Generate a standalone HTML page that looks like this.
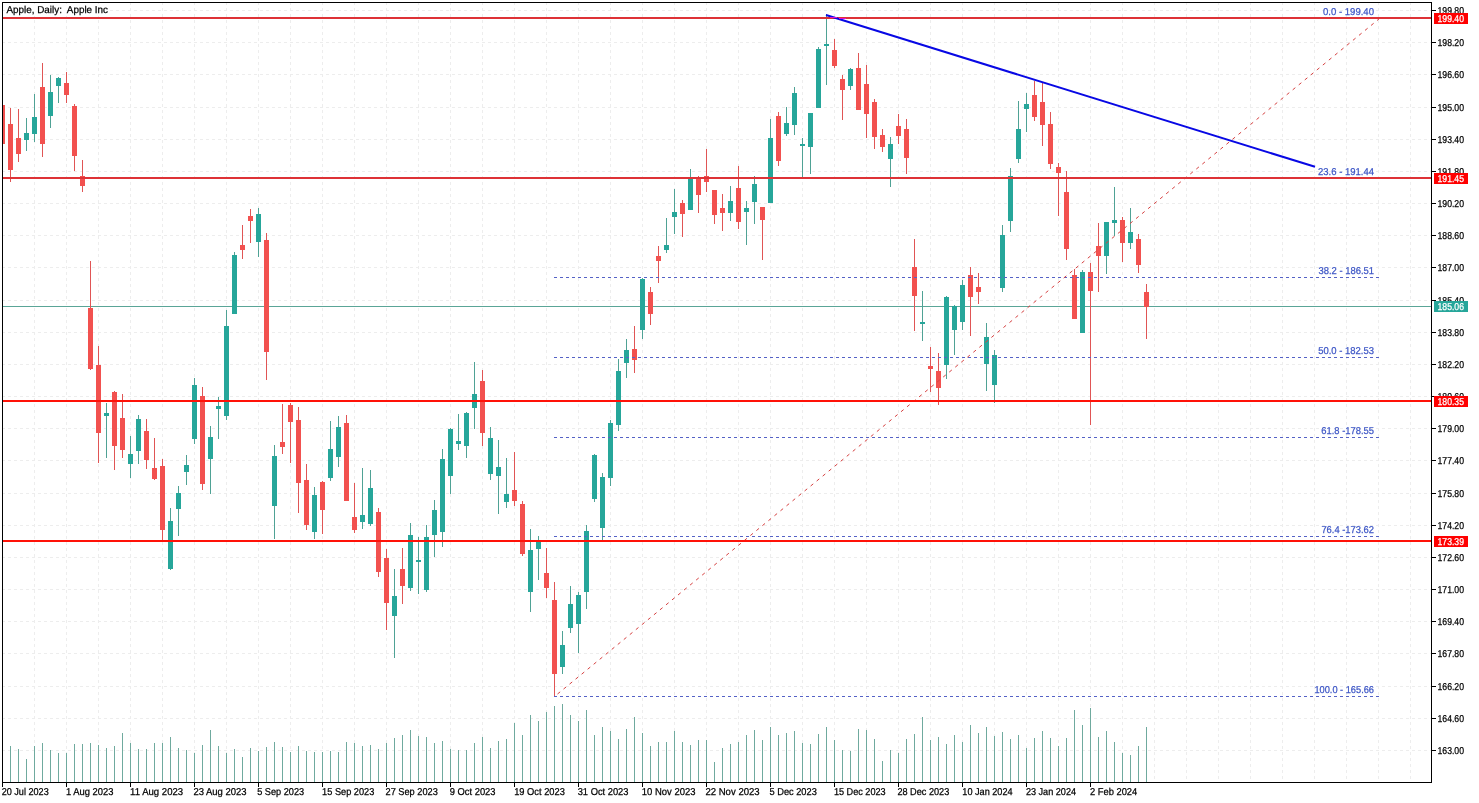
<!DOCTYPE html>
<html><head><meta charset="utf-8"><title>Apple, Daily</title>
<style>
html,body{margin:0;padding:0;background:#fff;}
body{width:1479px;height:803px;overflow:hidden;position:relative;font-family:"Liberation Sans",sans-serif;}
</style></head><body>
<svg width="1479" height="803" viewBox="0 0 1479 803" style="display:block;position:absolute;left:0;top:0;will-change:transform">
<rect x="0" y="0" width="1479" height="803" fill="#ffffff"/>
<g shape-rendering="crispEdges" stroke="#ededed" stroke-width="1" stroke-dasharray="3 3" fill="none">
<line x1="34.5" y1="2" x2="34.5" y2="782"/>
<line x1="66.5" y1="2" x2="66.5" y2="782"/>
<line x1="98.5" y1="2" x2="98.5" y2="782"/>
<line x1="130.5" y1="2" x2="130.5" y2="782"/>
<line x1="162.5" y1="2" x2="162.5" y2="782"/>
<line x1="194.5" y1="2" x2="194.5" y2="782"/>
<line x1="226.5" y1="2" x2="226.5" y2="782"/>
<line x1="258.5" y1="2" x2="258.5" y2="782"/>
<line x1="290.5" y1="2" x2="290.5" y2="782"/>
<line x1="322.5" y1="2" x2="322.5" y2="782"/>
<line x1="354.5" y1="2" x2="354.5" y2="782"/>
<line x1="386.5" y1="2" x2="386.5" y2="782"/>
<line x1="418.5" y1="2" x2="418.5" y2="782"/>
<line x1="450.5" y1="2" x2="450.5" y2="782"/>
<line x1="482.5" y1="2" x2="482.5" y2="782"/>
<line x1="514.5" y1="2" x2="514.5" y2="782"/>
<line x1="546.5" y1="2" x2="546.5" y2="782"/>
<line x1="578.5" y1="2" x2="578.5" y2="782"/>
<line x1="610.5" y1="2" x2="610.5" y2="782"/>
<line x1="642.5" y1="2" x2="642.5" y2="782"/>
<line x1="674.5" y1="2" x2="674.5" y2="782"/>
<line x1="706.5" y1="2" x2="706.5" y2="782"/>
<line x1="738.5" y1="2" x2="738.5" y2="782"/>
<line x1="770.5" y1="2" x2="770.5" y2="782"/>
<line x1="802.5" y1="2" x2="802.5" y2="782"/>
<line x1="834.5" y1="2" x2="834.5" y2="782"/>
<line x1="866.5" y1="2" x2="866.5" y2="782"/>
<line x1="898.5" y1="2" x2="898.5" y2="782"/>
<line x1="930.5" y1="2" x2="930.5" y2="782"/>
<line x1="962.5" y1="2" x2="962.5" y2="782"/>
<line x1="994.5" y1="2" x2="994.5" y2="782"/>
<line x1="1026.5" y1="2" x2="1026.5" y2="782"/>
<line x1="1058.5" y1="2" x2="1058.5" y2="782"/>
<line x1="1090.5" y1="2" x2="1090.5" y2="782"/>
<line x1="1122.5" y1="2" x2="1122.5" y2="782"/>
<line x1="1154.5" y1="2" x2="1154.5" y2="782"/>
<line x1="1186.5" y1="2" x2="1186.5" y2="782"/>
<line x1="1218.5" y1="2" x2="1218.5" y2="782"/>
<line x1="1250.5" y1="2" x2="1250.5" y2="782"/>
<line x1="1282.5" y1="2" x2="1282.5" y2="782"/>
<line x1="1314.5" y1="2" x2="1314.5" y2="782"/>
<line x1="1346.5" y1="2" x2="1346.5" y2="782"/>
<line x1="1378.5" y1="2" x2="1378.5" y2="782"/>
<line x1="1410.5" y1="2" x2="1410.5" y2="782"/>
<line x1="2" y1="10.5" x2="1431" y2="10.5"/>
<line x1="2" y1="42.5" x2="1431" y2="42.5"/>
<line x1="2" y1="74.5" x2="1431" y2="74.5"/>
<line x1="2" y1="107.5" x2="1431" y2="107.5"/>
<line x1="2" y1="139.5" x2="1431" y2="139.5"/>
<line x1="2" y1="171.5" x2="1431" y2="171.5"/>
<line x1="2" y1="203.5" x2="1431" y2="203.5"/>
<line x1="2" y1="235.5" x2="1431" y2="235.5"/>
<line x1="2" y1="267.5" x2="1431" y2="267.5"/>
<line x1="2" y1="300.5" x2="1431" y2="300.5"/>
<line x1="2" y1="332.5" x2="1431" y2="332.5"/>
<line x1="2" y1="364.5" x2="1431" y2="364.5"/>
<line x1="2" y1="396.5" x2="1431" y2="396.5"/>
<line x1="2" y1="428.5" x2="1431" y2="428.5"/>
<line x1="2" y1="460.5" x2="1431" y2="460.5"/>
<line x1="2" y1="493.5" x2="1431" y2="493.5"/>
<line x1="2" y1="525.5" x2="1431" y2="525.5"/>
<line x1="2" y1="557.5" x2="1431" y2="557.5"/>
<line x1="2" y1="589.5" x2="1431" y2="589.5"/>
<line x1="2" y1="621.5" x2="1431" y2="621.5"/>
<line x1="2" y1="653.5" x2="1431" y2="653.5"/>
<line x1="2" y1="686.5" x2="1431" y2="686.5"/>
<line x1="2" y1="718.5" x2="1431" y2="718.5"/>
<line x1="2" y1="750.5" x2="1431" y2="750.5"/>
</g>
<g shape-rendering="crispEdges" fill="#6faa9e">
<rect x="10" y="746" width="1" height="36"/>
<rect x="18" y="749" width="1" height="33"/>
<rect x="26" y="759" width="1" height="23"/>
<rect x="34" y="746" width="1" height="36"/>
<rect x="42" y="743" width="1" height="39"/>
<rect x="50" y="750" width="1" height="32"/>
<rect x="58" y="753" width="1" height="29"/>
<rect x="66" y="753" width="1" height="29"/>
<rect x="74" y="744" width="1" height="38"/>
<rect x="82" y="744" width="1" height="38"/>
<rect x="90" y="743" width="1" height="39"/>
<rect x="98" y="745" width="1" height="37"/>
<rect x="106" y="748" width="1" height="34"/>
<rect x="114" y="746" width="1" height="36"/>
<rect x="122" y="733" width="1" height="49"/>
<rect x="130" y="743" width="1" height="39"/>
<rect x="138" y="749" width="1" height="33"/>
<rect x="146" y="749" width="1" height="33"/>
<rect x="154" y="743" width="1" height="39"/>
<rect x="162" y="743" width="1" height="39"/>
<rect x="170" y="737" width="1" height="45"/>
<rect x="178" y="748" width="1" height="34"/>
<rect x="186" y="750" width="1" height="32"/>
<rect x="194" y="753" width="1" height="29"/>
<rect x="202" y="745" width="1" height="37"/>
<rect x="210" y="730" width="1" height="52"/>
<rect x="218" y="746" width="1" height="36"/>
<rect x="226" y="753" width="1" height="29"/>
<rect x="234" y="749" width="1" height="33"/>
<rect x="242" y="757" width="1" height="25"/>
<rect x="250" y="748" width="1" height="34"/>
<rect x="258" y="751" width="1" height="31"/>
<rect x="266" y="747" width="1" height="35"/>
<rect x="274" y="742" width="1" height="40"/>
<rect x="282" y="747" width="1" height="35"/>
<rect x="290" y="752" width="1" height="30"/>
<rect x="298" y="746" width="1" height="36"/>
<rect x="306" y="751" width="1" height="31"/>
<rect x="314" y="752" width="1" height="30"/>
<rect x="322" y="752" width="1" height="30"/>
<rect x="330" y="751" width="1" height="31"/>
<rect x="338" y="752" width="1" height="30"/>
<rect x="346" y="742" width="1" height="40"/>
<rect x="354" y="743" width="1" height="39"/>
<rect x="362" y="746" width="1" height="36"/>
<rect x="370" y="745" width="1" height="37"/>
<rect x="378" y="749" width="1" height="33"/>
<rect x="386" y="743" width="1" height="39"/>
<rect x="394" y="738" width="1" height="44"/>
<rect x="402" y="735" width="1" height="47"/>
<rect x="410" y="730" width="1" height="52"/>
<rect x="418" y="736" width="1" height="46"/>
<rect x="426" y="737" width="1" height="45"/>
<rect x="434" y="743" width="1" height="39"/>
<rect x="442" y="741" width="1" height="41"/>
<rect x="450" y="749" width="1" height="33"/>
<rect x="458" y="750" width="1" height="32"/>
<rect x="466" y="750" width="1" height="32"/>
<rect x="474" y="743" width="1" height="39"/>
<rect x="482" y="737" width="1" height="45"/>
<rect x="490" y="748" width="1" height="34"/>
<rect x="498" y="741" width="1" height="41"/>
<rect x="506" y="739" width="1" height="43"/>
<rect x="514" y="723" width="1" height="59"/>
<rect x="522" y="735" width="1" height="47"/>
<rect x="530" y="715" width="1" height="67"/>
<rect x="538" y="721" width="1" height="61"/>
<rect x="546" y="712" width="1" height="70"/>
<rect x="554" y="706" width="1" height="76"/>
<rect x="562" y="704" width="1" height="78"/>
<rect x="570" y="715" width="1" height="67"/>
<rect x="578" y="721" width="1" height="61"/>
<rect x="586" y="710" width="1" height="72"/>
<rect x="594" y="735" width="1" height="47"/>
<rect x="602" y="727" width="1" height="55"/>
<rect x="610" y="731" width="1" height="51"/>
<rect x="618" y="739" width="1" height="43"/>
<rect x="626" y="729" width="1" height="53"/>
<rect x="634" y="717" width="1" height="65"/>
<rect x="642" y="733" width="1" height="49"/>
<rect x="650" y="746" width="1" height="36"/>
<rect x="658" y="742" width="1" height="40"/>
<rect x="666" y="742" width="1" height="40"/>
<rect x="674" y="731" width="1" height="51"/>
<rect x="682" y="742" width="1" height="40"/>
<rect x="690" y="745" width="1" height="37"/>
<rect x="698" y="740" width="1" height="42"/>
<rect x="706" y="740" width="1" height="42"/>
<rect x="714" y="762" width="1" height="20"/>
<rect x="722" y="748" width="1" height="34"/>
<rect x="730" y="744" width="1" height="38"/>
<rect x="738" y="742" width="1" height="40"/>
<rect x="746" y="735" width="1" height="47"/>
<rect x="754" y="730" width="1" height="52"/>
<rect x="762" y="740" width="1" height="42"/>
<rect x="770" y="727" width="1" height="55"/>
<rect x="778" y="735" width="1" height="47"/>
<rect x="786" y="733" width="1" height="49"/>
<rect x="794" y="731" width="1" height="51"/>
<rect x="802" y="743" width="1" height="39"/>
<rect x="810" y="744" width="1" height="38"/>
<rect x="818" y="734" width="1" height="48"/>
<rect x="826" y="727" width="1" height="55"/>
<rect x="834" y="740" width="1" height="42"/>
<rect x="842" y="750" width="1" height="32"/>
<rect x="850" y="751" width="1" height="31"/>
<rect x="858" y="729" width="1" height="53"/>
<rect x="866" y="730" width="1" height="52"/>
<rect x="874" y="739" width="1" height="43"/>
<rect x="882" y="761" width="1" height="21"/>
<rect x="890" y="750" width="1" height="32"/>
<rect x="898" y="753" width="1" height="29"/>
<rect x="906" y="739" width="1" height="43"/>
<rect x="914" y="734" width="1" height="48"/>
<rect x="922" y="717" width="1" height="65"/>
<rect x="930" y="740" width="1" height="42"/>
<rect x="938" y="737" width="1" height="45"/>
<rect x="946" y="744" width="1" height="38"/>
<rect x="954" y="735" width="1" height="47"/>
<rect x="962" y="742" width="1" height="40"/>
<rect x="970" y="725" width="1" height="57"/>
<rect x="978" y="733" width="1" height="49"/>
<rect x="986" y="727" width="1" height="55"/>
<rect x="994" y="736" width="1" height="46"/>
<rect x="1002" y="732" width="1" height="50"/>
<rect x="1010" y="739" width="1" height="43"/>
<rect x="1018" y="735" width="1" height="47"/>
<rect x="1026" y="748" width="1" height="34"/>
<rect x="1034" y="738" width="1" height="44"/>
<rect x="1042" y="731" width="1" height="51"/>
<rect x="1050" y="738" width="1" height="44"/>
<rect x="1058" y="746" width="1" height="36"/>
<rect x="1066" y="738" width="1" height="44"/>
<rect x="1074" y="710" width="1" height="72"/>
<rect x="1082" y="725" width="1" height="57"/>
<rect x="1090" y="708" width="1" height="74"/>
<rect x="1098" y="737" width="1" height="45"/>
<rect x="1106" y="731" width="1" height="51"/>
<rect x="1114" y="742" width="1" height="40"/>
<rect x="1122" y="753" width="1" height="29"/>
<rect x="1130" y="755" width="1" height="27"/>
<rect x="1138" y="746" width="1" height="36"/>
<rect x="1146" y="727" width="1" height="55"/>
</g>
<rect x="3" y="306" width="1428" height="1" fill="#5aa597" shape-rendering="crispEdges"/>
<g shape-rendering="crispEdges">
<rect x="3" y="105" width="2" height="39" fill="#f2514f"/>
<rect x="10" y="108" width="1" height="74" fill="#e05555"/>
<rect x="8" y="124" width="5" height="46" fill="#f2514f"/>
<rect x="18" y="109" width="1" height="53" fill="#e05555"/>
<rect x="16" y="138" width="5" height="16" fill="#f2514f"/>
<rect x="26" y="118" width="1" height="33" fill="#4fa295"/>
<rect x="24" y="133" width="5" height="7" fill="#26a69a"/>
<rect x="34" y="94" width="1" height="48" fill="#4fa295"/>
<rect x="32" y="117" width="5" height="17" fill="#26a69a"/>
<rect x="42" y="63" width="1" height="94" fill="#e05555"/>
<rect x="40" y="87" width="5" height="57" fill="#f2514f"/>
<rect x="50" y="75" width="1" height="53" fill="#4fa295"/>
<rect x="48" y="92" width="5" height="24" fill="#26a69a"/>
<rect x="58" y="77" width="1" height="26" fill="#4fa295"/>
<rect x="56" y="78" width="5" height="8" fill="#26a69a"/>
<rect x="66" y="72" width="1" height="31" fill="#e05555"/>
<rect x="64" y="83" width="5" height="12" fill="#f2514f"/>
<rect x="74" y="104" width="1" height="67" fill="#e05555"/>
<rect x="72" y="106" width="5" height="50" fill="#f2514f"/>
<rect x="82" y="160" width="1" height="32" fill="#e05555"/>
<rect x="80" y="176" width="5" height="10" fill="#f2514f"/>
<rect x="90" y="261" width="1" height="109" fill="#e05555"/>
<rect x="88" y="308" width="5" height="61" fill="#f2514f"/>
<rect x="98" y="346" width="1" height="117" fill="#e05555"/>
<rect x="96" y="365" width="5" height="68" fill="#f2514f"/>
<rect x="106" y="403" width="1" height="55" fill="#4fa295"/>
<rect x="104" y="413" width="5" height="3" fill="#26a69a"/>
<rect x="114" y="391" width="1" height="79" fill="#e05555"/>
<rect x="112" y="392" width="5" height="54" fill="#f2514f"/>
<rect x="122" y="394" width="1" height="64" fill="#e05555"/>
<rect x="120" y="418" width="5" height="32" fill="#f2514f"/>
<rect x="130" y="436" width="1" height="42" fill="#4fa295"/>
<rect x="128" y="454" width="5" height="10" fill="#26a69a"/>
<rect x="138" y="415" width="1" height="49" fill="#4fa295"/>
<rect x="136" y="419" width="5" height="32" fill="#26a69a"/>
<rect x="146" y="419" width="1" height="50" fill="#e05555"/>
<rect x="144" y="431" width="5" height="29" fill="#f2514f"/>
<rect x="154" y="438" width="1" height="42" fill="#e05555"/>
<rect x="152" y="468" width="5" height="11" fill="#f2514f"/>
<rect x="162" y="459" width="1" height="81" fill="#e05555"/>
<rect x="160" y="466" width="5" height="64" fill="#f2514f"/>
<rect x="170" y="508" width="1" height="62" fill="#4fa295"/>
<rect x="168" y="521" width="5" height="48" fill="#26a69a"/>
<rect x="178" y="486" width="1" height="50" fill="#4fa295"/>
<rect x="176" y="493" width="5" height="16" fill="#26a69a"/>
<rect x="186" y="455" width="1" height="30" fill="#4fa295"/>
<rect x="184" y="465" width="5" height="7" fill="#26a69a"/>
<rect x="194" y="378" width="1" height="66" fill="#4fa295"/>
<rect x="192" y="385" width="5" height="54" fill="#26a69a"/>
<rect x="202" y="387" width="1" height="103" fill="#e05555"/>
<rect x="200" y="396" width="5" height="88" fill="#f2514f"/>
<rect x="210" y="426" width="1" height="68" fill="#4fa295"/>
<rect x="208" y="437" width="5" height="22" fill="#26a69a"/>
<rect x="218" y="397" width="1" height="42" fill="#4fa295"/>
<rect x="216" y="406" width="5" height="3" fill="#26a69a"/>
<rect x="226" y="310" width="1" height="110" fill="#4fa295"/>
<rect x="224" y="326" width="5" height="90" fill="#26a69a"/>
<rect x="234" y="252" width="1" height="62" fill="#4fa295"/>
<rect x="232" y="255" width="5" height="59" fill="#26a69a"/>
<rect x="242" y="225" width="1" height="34" fill="#e05555"/>
<rect x="240" y="245" width="5" height="5" fill="#f2514f"/>
<rect x="250" y="209" width="1" height="34" fill="#e05555"/>
<rect x="248" y="216" width="5" height="5" fill="#f2514f"/>
<rect x="258" y="208" width="1" height="49" fill="#4fa295"/>
<rect x="256" y="214" width="5" height="28" fill="#26a69a"/>
<rect x="266" y="233" width="1" height="147" fill="#e05555"/>
<rect x="264" y="240" width="5" height="112" fill="#f2514f"/>
<rect x="274" y="445" width="1" height="94" fill="#4fa295"/>
<rect x="272" y="456" width="5" height="50" fill="#26a69a"/>
<rect x="282" y="404" width="1" height="50" fill="#e05555"/>
<rect x="280" y="442" width="5" height="5" fill="#f2514f"/>
<rect x="290" y="403" width="1" height="60" fill="#e05555"/>
<rect x="288" y="405" width="5" height="17" fill="#f2514f"/>
<rect x="298" y="407" width="1" height="106" fill="#e05555"/>
<rect x="296" y="420" width="5" height="63" fill="#f2514f"/>
<rect x="306" y="464" width="1" height="66" fill="#e05555"/>
<rect x="304" y="480" width="5" height="45" fill="#f2514f"/>
<rect x="314" y="487" width="1" height="52" fill="#4fa295"/>
<rect x="312" y="495" width="5" height="37" fill="#26a69a"/>
<rect x="322" y="481" width="1" height="53" fill="#e05555"/>
<rect x="320" y="482" width="5" height="28" fill="#f2514f"/>
<rect x="330" y="421" width="1" height="60" fill="#4fa295"/>
<rect x="328" y="449" width="5" height="29" fill="#26a69a"/>
<rect x="338" y="416" width="1" height="51" fill="#4fa295"/>
<rect x="336" y="427" width="5" height="30" fill="#26a69a"/>
<rect x="346" y="415" width="1" height="86" fill="#e05555"/>
<rect x="344" y="423" width="5" height="78" fill="#f2514f"/>
<rect x="354" y="483" width="1" height="50" fill="#e05555"/>
<rect x="352" y="517" width="5" height="13" fill="#f2514f"/>
<rect x="362" y="468" width="1" height="61" fill="#4fa295"/>
<rect x="360" y="515" width="5" height="7" fill="#26a69a"/>
<rect x="370" y="470" width="1" height="56" fill="#4fa295"/>
<rect x="368" y="488" width="5" height="36" fill="#26a69a"/>
<rect x="378" y="508" width="1" height="69" fill="#e05555"/>
<rect x="376" y="512" width="5" height="60" fill="#f2514f"/>
<rect x="386" y="549" width="1" height="81" fill="#e05555"/>
<rect x="384" y="558" width="5" height="45" fill="#f2514f"/>
<rect x="394" y="569" width="1" height="89" fill="#4fa295"/>
<rect x="392" y="596" width="5" height="20" fill="#26a69a"/>
<rect x="402" y="548" width="1" height="56" fill="#e05555"/>
<rect x="400" y="569" width="5" height="17" fill="#f2514f"/>
<rect x="410" y="523" width="1" height="68" fill="#4fa295"/>
<rect x="408" y="535" width="5" height="53" fill="#26a69a"/>
<rect x="418" y="537" width="1" height="57" fill="#4fa295"/>
<rect x="416" y="560" width="5" height="2" fill="#26a69a"/>
<rect x="426" y="525" width="1" height="67" fill="#4fa295"/>
<rect x="424" y="537" width="5" height="53" fill="#26a69a"/>
<rect x="434" y="500" width="1" height="57" fill="#4fa295"/>
<rect x="432" y="510" width="5" height="25" fill="#26a69a"/>
<rect x="442" y="449" width="1" height="98" fill="#4fa295"/>
<rect x="440" y="459" width="5" height="73" fill="#26a69a"/>
<rect x="450" y="428" width="1" height="66" fill="#4fa295"/>
<rect x="448" y="429" width="5" height="47" fill="#26a69a"/>
<rect x="458" y="414" width="1" height="36" fill="#4fa295"/>
<rect x="456" y="441" width="5" height="3" fill="#26a69a"/>
<rect x="466" y="412" width="1" height="46" fill="#4fa295"/>
<rect x="464" y="413" width="5" height="33" fill="#26a69a"/>
<rect x="474" y="362" width="1" height="67" fill="#4fa295"/>
<rect x="472" y="394" width="5" height="14" fill="#26a69a"/>
<rect x="482" y="370" width="1" height="76" fill="#e05555"/>
<rect x="480" y="381" width="5" height="52" fill="#f2514f"/>
<rect x="490" y="427" width="1" height="53" fill="#4fa295"/>
<rect x="488" y="438" width="5" height="36" fill="#26a69a"/>
<rect x="498" y="440" width="1" height="74" fill="#4fa295"/>
<rect x="496" y="467" width="5" height="9" fill="#26a69a"/>
<rect x="506" y="458" width="1" height="50" fill="#4fa295"/>
<rect x="504" y="494" width="5" height="8" fill="#26a69a"/>
<rect x="514" y="452" width="1" height="54" fill="#e05555"/>
<rect x="512" y="490" width="5" height="11" fill="#f2514f"/>
<rect x="522" y="501" width="1" height="55" fill="#e05555"/>
<rect x="520" y="504" width="5" height="50" fill="#f2514f"/>
<rect x="530" y="529" width="1" height="83" fill="#4fa295"/>
<rect x="528" y="550" width="5" height="42" fill="#26a69a"/>
<rect x="538" y="536" width="1" height="44" fill="#4fa295"/>
<rect x="536" y="542" width="5" height="7" fill="#26a69a"/>
<rect x="546" y="548" width="1" height="50" fill="#e05555"/>
<rect x="544" y="573" width="5" height="15" fill="#f2514f"/>
<rect x="554" y="582" width="1" height="114" fill="#e05555"/>
<rect x="552" y="600" width="5" height="74" fill="#f2514f"/>
<rect x="562" y="631" width="1" height="43" fill="#4fa295"/>
<rect x="560" y="645" width="5" height="22" fill="#26a69a"/>
<rect x="570" y="586" width="1" height="47" fill="#4fa295"/>
<rect x="568" y="604" width="5" height="24" fill="#26a69a"/>
<rect x="578" y="592" width="1" height="61" fill="#4fa295"/>
<rect x="576" y="595" width="5" height="29" fill="#26a69a"/>
<rect x="586" y="525" width="1" height="84" fill="#4fa295"/>
<rect x="584" y="531" width="5" height="61" fill="#26a69a"/>
<rect x="594" y="454" width="1" height="48" fill="#4fa295"/>
<rect x="592" y="455" width="5" height="44" fill="#26a69a"/>
<rect x="602" y="473" width="1" height="69" fill="#4fa295"/>
<rect x="600" y="477" width="5" height="51" fill="#26a69a"/>
<rect x="610" y="420" width="1" height="66" fill="#4fa295"/>
<rect x="608" y="423" width="5" height="55" fill="#26a69a"/>
<rect x="618" y="359" width="1" height="72" fill="#4fa295"/>
<rect x="616" y="371" width="5" height="54" fill="#26a69a"/>
<rect x="626" y="339" width="1" height="39" fill="#4fa295"/>
<rect x="624" y="350" width="5" height="13" fill="#26a69a"/>
<rect x="634" y="326" width="1" height="47" fill="#e05555"/>
<rect x="632" y="349" width="5" height="11" fill="#f2514f"/>
<rect x="642" y="278" width="1" height="61" fill="#4fa295"/>
<rect x="640" y="279" width="5" height="51" fill="#26a69a"/>
<rect x="650" y="287" width="1" height="38" fill="#e05555"/>
<rect x="648" y="292" width="5" height="22" fill="#f2514f"/>
<rect x="658" y="246" width="1" height="37" fill="#e05555"/>
<rect x="656" y="256" width="5" height="5" fill="#f2514f"/>
<rect x="666" y="218" width="1" height="35" fill="#4fa295"/>
<rect x="664" y="245" width="5" height="5" fill="#26a69a"/>
<rect x="674" y="189" width="1" height="45" fill="#4fa295"/>
<rect x="672" y="212" width="5" height="5" fill="#26a69a"/>
<rect x="682" y="200" width="1" height="37" fill="#e05555"/>
<rect x="680" y="203" width="5" height="11" fill="#f2514f"/>
<rect x="690" y="169" width="1" height="41" fill="#4fa295"/>
<rect x="688" y="179" width="5" height="31" fill="#26a69a"/>
<rect x="698" y="176" width="1" height="37" fill="#e05555"/>
<rect x="696" y="178" width="5" height="17" fill="#f2514f"/>
<rect x="706" y="149" width="1" height="43" fill="#e05555"/>
<rect x="704" y="176" width="5" height="6" fill="#f2514f"/>
<rect x="714" y="190" width="1" height="34" fill="#e05555"/>
<rect x="712" y="190" width="5" height="25" fill="#f2514f"/>
<rect x="722" y="194" width="1" height="37" fill="#e05555"/>
<rect x="720" y="208" width="5" height="5" fill="#f2514f"/>
<rect x="730" y="186" width="1" height="35" fill="#4fa295"/>
<rect x="728" y="201" width="5" height="12" fill="#26a69a"/>
<rect x="738" y="166" width="1" height="63" fill="#e05555"/>
<rect x="736" y="188" width="5" height="34" fill="#f2514f"/>
<rect x="746" y="201" width="1" height="44" fill="#4fa295"/>
<rect x="744" y="208" width="5" height="4" fill="#26a69a"/>
<rect x="754" y="176" width="1" height="48" fill="#4fa295"/>
<rect x="752" y="184" width="5" height="18" fill="#26a69a"/>
<rect x="762" y="207" width="1" height="53" fill="#e05555"/>
<rect x="760" y="207" width="5" height="13" fill="#f2514f"/>
<rect x="770" y="119" width="1" height="84" fill="#4fa295"/>
<rect x="768" y="138" width="5" height="65" fill="#26a69a"/>
<rect x="778" y="112" width="1" height="54" fill="#e05555"/>
<rect x="776" y="116" width="5" height="45" fill="#f2514f"/>
<rect x="786" y="107" width="1" height="29" fill="#4fa295"/>
<rect x="784" y="123" width="5" height="11" fill="#26a69a"/>
<rect x="794" y="87" width="1" height="48" fill="#4fa295"/>
<rect x="792" y="93" width="5" height="32" fill="#26a69a"/>
<rect x="802" y="138" width="1" height="41" fill="#4fa295"/>
<rect x="800" y="144" width="5" height="2" fill="#26a69a"/>
<rect x="810" y="113" width="1" height="61" fill="#4fa295"/>
<rect x="808" y="113" width="5" height="34" fill="#26a69a"/>
<rect x="818" y="47" width="1" height="61" fill="#4fa295"/>
<rect x="816" y="49" width="5" height="59" fill="#26a69a"/>
<rect x="826" y="14" width="1" height="71" fill="#4fa295"/>
<rect x="824" y="44" width="5" height="2" fill="#26a69a"/>
<rect x="834" y="39" width="1" height="29" fill="#e05555"/>
<rect x="832" y="50" width="5" height="16" fill="#f2514f"/>
<rect x="842" y="75" width="1" height="45" fill="#e05555"/>
<rect x="840" y="79" width="5" height="11" fill="#f2514f"/>
<rect x="850" y="68" width="1" height="22" fill="#4fa295"/>
<rect x="848" y="69" width="5" height="17" fill="#26a69a"/>
<rect x="858" y="53" width="1" height="57" fill="#e05555"/>
<rect x="856" y="68" width="5" height="42" fill="#f2514f"/>
<rect x="866" y="65" width="1" height="73" fill="#e05555"/>
<rect x="864" y="84" width="5" height="30" fill="#f2514f"/>
<rect x="874" y="99" width="1" height="50" fill="#e05555"/>
<rect x="872" y="102" width="5" height="35" fill="#f2514f"/>
<rect x="882" y="129" width="1" height="23" fill="#e05555"/>
<rect x="880" y="135" width="5" height="12" fill="#f2514f"/>
<rect x="890" y="137" width="1" height="50" fill="#4fa295"/>
<rect x="888" y="144" width="5" height="15" fill="#26a69a"/>
<rect x="898" y="114" width="1" height="30" fill="#e05555"/>
<rect x="896" y="126" width="5" height="10" fill="#f2514f"/>
<rect x="906" y="119" width="1" height="55" fill="#e05555"/>
<rect x="904" y="129" width="5" height="29" fill="#f2514f"/>
<rect x="914" y="239" width="1" height="92" fill="#e05555"/>
<rect x="912" y="267" width="5" height="29" fill="#f2514f"/>
<rect x="922" y="291" width="1" height="50" fill="#4fa295"/>
<rect x="920" y="322" width="5" height="2" fill="#26a69a"/>
<rect x="930" y="347" width="1" height="45" fill="#e05555"/>
<rect x="928" y="366" width="5" height="3" fill="#f2514f"/>
<rect x="938" y="353" width="1" height="52" fill="#e05555"/>
<rect x="936" y="371" width="5" height="17" fill="#f2514f"/>
<rect x="946" y="296" width="1" height="83" fill="#4fa295"/>
<rect x="944" y="297" width="5" height="68" fill="#26a69a"/>
<rect x="954" y="305" width="1" height="50" fill="#4fa295"/>
<rect x="952" y="306" width="5" height="24" fill="#26a69a"/>
<rect x="962" y="280" width="1" height="50" fill="#4fa295"/>
<rect x="960" y="285" width="5" height="37" fill="#26a69a"/>
<rect x="970" y="267" width="1" height="69" fill="#e05555"/>
<rect x="968" y="275" width="5" height="22" fill="#f2514f"/>
<rect x="978" y="273" width="1" height="31" fill="#e05555"/>
<rect x="976" y="287" width="5" height="5" fill="#f2514f"/>
<rect x="986" y="323" width="1" height="68" fill="#4fa295"/>
<rect x="984" y="337" width="5" height="27" fill="#26a69a"/>
<rect x="994" y="350" width="1" height="53" fill="#4fa295"/>
<rect x="992" y="355" width="5" height="30" fill="#26a69a"/>
<rect x="1002" y="225" width="1" height="67" fill="#4fa295"/>
<rect x="1000" y="235" width="5" height="53" fill="#26a69a"/>
<rect x="1010" y="168" width="1" height="64" fill="#4fa295"/>
<rect x="1008" y="176" width="5" height="45" fill="#26a69a"/>
<rect x="1018" y="101" width="1" height="62" fill="#4fa295"/>
<rect x="1016" y="129" width="5" height="30" fill="#26a69a"/>
<rect x="1026" y="93" width="1" height="39" fill="#4fa295"/>
<rect x="1024" y="104" width="5" height="5" fill="#26a69a"/>
<rect x="1034" y="81" width="1" height="40" fill="#e05555"/>
<rect x="1032" y="95" width="5" height="22" fill="#f2514f"/>
<rect x="1042" y="83" width="1" height="63" fill="#e05555"/>
<rect x="1040" y="102" width="5" height="23" fill="#f2514f"/>
<rect x="1050" y="112" width="1" height="57" fill="#e05555"/>
<rect x="1048" y="124" width="5" height="40" fill="#f2514f"/>
<rect x="1058" y="163" width="1" height="53" fill="#e05555"/>
<rect x="1056" y="167" width="5" height="6" fill="#f2514f"/>
<rect x="1066" y="171" width="1" height="89" fill="#e05555"/>
<rect x="1064" y="192" width="5" height="57" fill="#f2514f"/>
<rect x="1074" y="269" width="1" height="50" fill="#e05555"/>
<rect x="1072" y="275" width="5" height="44" fill="#f2514f"/>
<rect x="1082" y="270" width="1" height="63" fill="#4fa295"/>
<rect x="1080" y="272" width="5" height="61" fill="#26a69a"/>
<rect x="1090" y="263" width="1" height="162" fill="#e05555"/>
<rect x="1088" y="272" width="5" height="19" fill="#f2514f"/>
<rect x="1098" y="223" width="1" height="69" fill="#e05555"/>
<rect x="1096" y="246" width="5" height="10" fill="#f2514f"/>
<rect x="1106" y="222" width="1" height="52" fill="#4fa295"/>
<rect x="1104" y="222" width="5" height="34" fill="#26a69a"/>
<rect x="1114" y="187" width="1" height="49" fill="#4fa295"/>
<rect x="1112" y="220" width="5" height="3" fill="#26a69a"/>
<rect x="1122" y="217" width="1" height="45" fill="#e05555"/>
<rect x="1120" y="220" width="5" height="23" fill="#f2514f"/>
<rect x="1130" y="208" width="1" height="41" fill="#4fa295"/>
<rect x="1128" y="232" width="5" height="11" fill="#26a69a"/>
<rect x="1138" y="234" width="1" height="39" fill="#e05555"/>
<rect x="1136" y="239" width="5" height="26" fill="#f2514f"/>
<rect x="1146" y="284" width="1" height="55" fill="#e05555"/>
<rect x="1144" y="292" width="5" height="15" fill="#f2514f"/>
</g>
<g shape-rendering="crispEdges" stroke="#5562c6" stroke-width="1" stroke-dasharray="3 3">
<line x1="554" y1="18.5" x2="1380" y2="18.5"/>
<line x1="554" y1="178.5" x2="1380" y2="178.5"/>
<line x1="554" y1="277.5" x2="1380" y2="277.5"/>
<line x1="554" y1="357.5" x2="1380" y2="357.5"/>
<line x1="554" y1="437.5" x2="1380" y2="437.5"/>
<line x1="554" y1="536.5" x2="1380" y2="536.5"/>
<line x1="554" y1="696.5" x2="1380" y2="696.5"/>
</g>
<line x1="554.5" y1="696.5" x2="1379.5" y2="18.5" stroke="#d64242" stroke-width="1" stroke-dasharray="3.4 4.4" stroke-dashoffset="3.9"/>
<g shape-rendering="crispEdges">
<rect x="3" y="17" width="1428" height="2" fill="#de3236"/>
<rect x="3" y="177" width="1428" height="2" fill="#de3236"/>
<rect x="3" y="400" width="1428" height="2" fill="#ff1208"/>
<rect x="3" y="540" width="1428" height="2" fill="#ff1208"/>
</g>
<line x1="826" y1="15" x2="1315" y2="166.8" stroke="#0808e4" stroke-width="2" stroke-linecap="butt"/>
<rect x="830" y="17" width="7" height="1" fill="#e010d0" shape-rendering="crispEdges"/>
<rect x="839" y="18" width="7" height="1" fill="#e010d0" shape-rendering="crispEdges"/>
<g shape-rendering="crispEdges" fill="#000">
<rect x="2" y="2" width="1430" height="1"/>
<rect x="2" y="2" width="1" height="785"/>
<rect x="1431" y="2" width="1" height="781"/>
<rect x="2" y="782" width="1430" height="1"/>
<rect x="66" y="783" width="1" height="4"/>
<rect x="130" y="783" width="1" height="4"/>
<rect x="194" y="783" width="1" height="4"/>
<rect x="258" y="783" width="1" height="4"/>
<rect x="322" y="783" width="1" height="4"/>
<rect x="386" y="783" width="1" height="4"/>
<rect x="450" y="783" width="1" height="4"/>
<rect x="514" y="783" width="1" height="4"/>
<rect x="578" y="783" width="1" height="4"/>
<rect x="642" y="783" width="1" height="4"/>
<rect x="706" y="783" width="1" height="4"/>
<rect x="770" y="783" width="1" height="4"/>
<rect x="834" y="783" width="1" height="4"/>
<rect x="898" y="783" width="1" height="4"/>
<rect x="962" y="783" width="1" height="4"/>
<rect x="1026" y="783" width="1" height="4"/>
<rect x="1090" y="783" width="1" height="4"/>
<rect x="1432" y="10" width="4" height="1"/>
<rect x="1432" y="42" width="4" height="1"/>
<rect x="1432" y="74" width="4" height="1"/>
<rect x="1432" y="107" width="4" height="1"/>
<rect x="1432" y="139" width="4" height="1"/>
<rect x="1432" y="171" width="4" height="1"/>
<rect x="1432" y="203" width="4" height="1"/>
<rect x="1432" y="235" width="4" height="1"/>
<rect x="1432" y="267" width="4" height="1"/>
<rect x="1432" y="300" width="4" height="1"/>
<rect x="1432" y="332" width="4" height="1"/>
<rect x="1432" y="364" width="4" height="1"/>
<rect x="1432" y="396" width="4" height="1"/>
<rect x="1432" y="428" width="4" height="1"/>
<rect x="1432" y="460" width="4" height="1"/>
<rect x="1432" y="493" width="4" height="1"/>
<rect x="1432" y="525" width="4" height="1"/>
<rect x="1432" y="557" width="4" height="1"/>
<rect x="1432" y="589" width="4" height="1"/>
<rect x="1432" y="621" width="4" height="1"/>
<rect x="1432" y="653" width="4" height="1"/>
<rect x="1432" y="686" width="4" height="1"/>
<rect x="1432" y="718" width="4" height="1"/>
<rect x="1432" y="750" width="4" height="1"/>
</g>
<g font-family="'Liberation Sans', sans-serif" text-rendering="geometricPrecision">
<rect x="5" y="4" width="104" height="12" fill="#fff"/>
<text x="6.5" y="13.0" font-size="10.0" fill="#000" stroke="#000" stroke-width="0.25" text-anchor="start" textLength="101.5" lengthAdjust="spacingAndGlyphs" xml:space="preserve">Apple, Daily:  Apple Inc</text>
<text x="1437.5" y="14.0" font-size="10.0" fill="#000" stroke="#000" stroke-width="0.25" text-anchor="start" textLength="26.5" lengthAdjust="spacingAndGlyphs" xml:space="preserve">199.80</text>
<text x="1437.5" y="46.0" font-size="10.0" fill="#000" stroke="#000" stroke-width="0.25" text-anchor="start" textLength="26.5" lengthAdjust="spacingAndGlyphs" xml:space="preserve">198.20</text>
<text x="1437.5" y="78.0" font-size="10.0" fill="#000" stroke="#000" stroke-width="0.25" text-anchor="start" textLength="26.5" lengthAdjust="spacingAndGlyphs" xml:space="preserve">196.60</text>
<text x="1437.5" y="111.0" font-size="10.0" fill="#000" stroke="#000" stroke-width="0.25" text-anchor="start" textLength="26.5" lengthAdjust="spacingAndGlyphs" xml:space="preserve">195.00</text>
<text x="1437.5" y="143.0" font-size="10.0" fill="#000" stroke="#000" stroke-width="0.25" text-anchor="start" textLength="26.5" lengthAdjust="spacingAndGlyphs" xml:space="preserve">193.40</text>
<text x="1437.5" y="175.0" font-size="10.0" fill="#000" stroke="#000" stroke-width="0.25" text-anchor="start" textLength="26.5" lengthAdjust="spacingAndGlyphs" xml:space="preserve">191.80</text>
<text x="1437.5" y="207.0" font-size="10.0" fill="#000" stroke="#000" stroke-width="0.25" text-anchor="start" textLength="26.5" lengthAdjust="spacingAndGlyphs" xml:space="preserve">190.20</text>
<text x="1437.5" y="239.0" font-size="10.0" fill="#000" stroke="#000" stroke-width="0.25" text-anchor="start" textLength="26.5" lengthAdjust="spacingAndGlyphs" xml:space="preserve">188.60</text>
<text x="1437.5" y="271.0" font-size="10.0" fill="#000" stroke="#000" stroke-width="0.25" text-anchor="start" textLength="26.5" lengthAdjust="spacingAndGlyphs" xml:space="preserve">187.00</text>
<text x="1437.5" y="304.0" font-size="10.0" fill="#000" stroke="#000" stroke-width="0.25" text-anchor="start" textLength="26.5" lengthAdjust="spacingAndGlyphs" xml:space="preserve">185.40</text>
<text x="1437.5" y="336.0" font-size="10.0" fill="#000" stroke="#000" stroke-width="0.25" text-anchor="start" textLength="26.5" lengthAdjust="spacingAndGlyphs" xml:space="preserve">183.80</text>
<text x="1437.5" y="368.0" font-size="10.0" fill="#000" stroke="#000" stroke-width="0.25" text-anchor="start" textLength="26.5" lengthAdjust="spacingAndGlyphs" xml:space="preserve">182.20</text>
<text x="1437.5" y="400.0" font-size="10.0" fill="#000" stroke="#000" stroke-width="0.25" text-anchor="start" textLength="26.5" lengthAdjust="spacingAndGlyphs" xml:space="preserve">180.60</text>
<text x="1437.5" y="432.0" font-size="10.0" fill="#000" stroke="#000" stroke-width="0.25" text-anchor="start" textLength="26.5" lengthAdjust="spacingAndGlyphs" xml:space="preserve">179.00</text>
<text x="1437.5" y="464.0" font-size="10.0" fill="#000" stroke="#000" stroke-width="0.25" text-anchor="start" textLength="26.5" lengthAdjust="spacingAndGlyphs" xml:space="preserve">177.40</text>
<text x="1437.5" y="497.0" font-size="10.0" fill="#000" stroke="#000" stroke-width="0.25" text-anchor="start" textLength="26.5" lengthAdjust="spacingAndGlyphs" xml:space="preserve">175.80</text>
<text x="1437.5" y="529.0" font-size="10.0" fill="#000" stroke="#000" stroke-width="0.25" text-anchor="start" textLength="26.5" lengthAdjust="spacingAndGlyphs" xml:space="preserve">174.20</text>
<text x="1437.5" y="561.0" font-size="10.0" fill="#000" stroke="#000" stroke-width="0.25" text-anchor="start" textLength="26.5" lengthAdjust="spacingAndGlyphs" xml:space="preserve">172.60</text>
<text x="1437.5" y="593.0" font-size="10.0" fill="#000" stroke="#000" stroke-width="0.25" text-anchor="start" textLength="26.5" lengthAdjust="spacingAndGlyphs" xml:space="preserve">171.00</text>
<text x="1437.5" y="625.0" font-size="10.0" fill="#000" stroke="#000" stroke-width="0.25" text-anchor="start" textLength="26.5" lengthAdjust="spacingAndGlyphs" xml:space="preserve">169.40</text>
<text x="1437.5" y="657.0" font-size="10.0" fill="#000" stroke="#000" stroke-width="0.25" text-anchor="start" textLength="26.5" lengthAdjust="spacingAndGlyphs" xml:space="preserve">167.80</text>
<text x="1437.5" y="690.0" font-size="10.0" fill="#000" stroke="#000" stroke-width="0.25" text-anchor="start" textLength="26.5" lengthAdjust="spacingAndGlyphs" xml:space="preserve">166.20</text>
<text x="1437.5" y="722.0" font-size="10.0" fill="#000" stroke="#000" stroke-width="0.25" text-anchor="start" textLength="26.5" lengthAdjust="spacingAndGlyphs" xml:space="preserve">164.60</text>
<text x="1437.5" y="754.0" font-size="10.0" fill="#000" stroke="#000" stroke-width="0.25" text-anchor="start" textLength="26.5" lengthAdjust="spacingAndGlyphs" xml:space="preserve">163.00</text>
<text x="1.7" y="795.0" font-size="10.0" fill="#000" stroke="#000" stroke-width="0.25" text-anchor="start" textLength="47.0" lengthAdjust="spacingAndGlyphs" xml:space="preserve">20 Jul 2023</text>
<text x="66.0" y="795.0" font-size="10.0" fill="#000" stroke="#000" stroke-width="0.25" text-anchor="start" textLength="47.5" lengthAdjust="spacingAndGlyphs" xml:space="preserve">1 Aug 2023</text>
<text x="130.1" y="795.0" font-size="10.0" fill="#000" stroke="#000" stroke-width="0.25" text-anchor="start" textLength="53.0" lengthAdjust="spacingAndGlyphs" xml:space="preserve">11 Aug 2023</text>
<text x="193.4" y="795.0" font-size="10.0" fill="#000" stroke="#000" stroke-width="0.25" text-anchor="start" textLength="53.2" lengthAdjust="spacingAndGlyphs" xml:space="preserve">23 Aug 2023</text>
<text x="257.2" y="795.0" font-size="10.0" fill="#000" stroke="#000" stroke-width="0.25" text-anchor="start" textLength="47.0" lengthAdjust="spacingAndGlyphs" xml:space="preserve">5 Sep 2023</text>
<text x="322.1" y="795.0" font-size="10.0" fill="#000" stroke="#000" stroke-width="0.25" text-anchor="start" textLength="52.2" lengthAdjust="spacingAndGlyphs" xml:space="preserve">15 Sep 2023</text>
<text x="385.5" y="795.0" font-size="10.0" fill="#000" stroke="#000" stroke-width="0.25" text-anchor="start" textLength="52.3" lengthAdjust="spacingAndGlyphs" xml:space="preserve">27 Sep 2023</text>
<text x="449.8" y="795.0" font-size="10.0" fill="#000" stroke="#000" stroke-width="0.25" text-anchor="start" textLength="45.7" lengthAdjust="spacingAndGlyphs" xml:space="preserve">9 Oct 2023</text>
<text x="514.2" y="795.0" font-size="10.0" fill="#000" stroke="#000" stroke-width="0.25" text-anchor="start" textLength="50.7" lengthAdjust="spacingAndGlyphs" xml:space="preserve">19 Oct 2023</text>
<text x="577.7" y="795.0" font-size="10.0" fill="#000" stroke="#000" stroke-width="0.25" text-anchor="start" textLength="50.8" lengthAdjust="spacingAndGlyphs" xml:space="preserve">31 Oct 2023</text>
<text x="641.8" y="795.0" font-size="10.0" fill="#000" stroke="#000" stroke-width="0.25" text-anchor="start" textLength="53.7" lengthAdjust="spacingAndGlyphs" xml:space="preserve">10 Nov 2023</text>
<text x="705.4" y="795.0" font-size="10.0" fill="#000" stroke="#000" stroke-width="0.25" text-anchor="start" textLength="54.3" lengthAdjust="spacingAndGlyphs" xml:space="preserve">22 Nov 2023</text>
<text x="769.5" y="795.0" font-size="10.0" fill="#000" stroke="#000" stroke-width="0.25" text-anchor="start" textLength="47.3" lengthAdjust="spacingAndGlyphs" xml:space="preserve">5 Dec 2023</text>
<text x="833.9" y="795.0" font-size="10.0" fill="#000" stroke="#000" stroke-width="0.25" text-anchor="start" textLength="51.8" lengthAdjust="spacingAndGlyphs" xml:space="preserve">15 Dec 2023</text>
<text x="897.4" y="795.0" font-size="10.0" fill="#000" stroke="#000" stroke-width="0.25" text-anchor="start" textLength="51.9" lengthAdjust="spacingAndGlyphs" xml:space="preserve">28 Dec 2023</text>
<text x="962.3" y="795.0" font-size="10.0" fill="#000" stroke="#000" stroke-width="0.25" text-anchor="start" textLength="50.3" lengthAdjust="spacingAndGlyphs" xml:space="preserve">10 Jan 2024</text>
<text x="1025.9" y="795.0" font-size="10.0" fill="#000" stroke="#000" stroke-width="0.25" text-anchor="start" textLength="50.2" lengthAdjust="spacingAndGlyphs" xml:space="preserve">23 Jan 2024</text>
<text x="1090.0" y="795.0" font-size="10.0" fill="#000" stroke="#000" stroke-width="0.25" text-anchor="start" textLength="47.2" lengthAdjust="spacingAndGlyphs" xml:space="preserve">2 Feb 2024</text>
<text x="1374.0" y="15.0" font-size="10.0" fill="#3d56c6" stroke="#3d56c6" stroke-width="0.25" text-anchor="end" textLength="51.0" lengthAdjust="spacingAndGlyphs" xml:space="preserve">0.0 - 199.40</text>
<text x="1374.0" y="175.0" font-size="10.0" fill="#3d56c6" stroke="#3d56c6" stroke-width="0.25" text-anchor="end" textLength="56.0" lengthAdjust="spacingAndGlyphs" xml:space="preserve">23.6 - 191.44</text>
<text x="1374.0" y="274.0" font-size="10.0" fill="#3d56c6" stroke="#3d56c6" stroke-width="0.25" text-anchor="end" textLength="55.5" lengthAdjust="spacingAndGlyphs" xml:space="preserve">38.2 - 186.51</text>
<text x="1374.0" y="354.0" font-size="10.0" fill="#3d56c6" stroke="#3d56c6" stroke-width="0.25" text-anchor="end" textLength="55.8" lengthAdjust="spacingAndGlyphs" xml:space="preserve">50.0 - 182.53</text>
<text x="1374.0" y="434.0" font-size="10.0" fill="#3d56c6" stroke="#3d56c6" stroke-width="0.25" text-anchor="end" textLength="52.7" lengthAdjust="spacingAndGlyphs" xml:space="preserve">61.8 -178.55</text>
<text x="1374.0" y="533.0" font-size="10.0" fill="#3d56c6" stroke="#3d56c6" stroke-width="0.25" text-anchor="end" textLength="52.6" lengthAdjust="spacingAndGlyphs" xml:space="preserve">76.4 -173.62</text>
<text x="1374.0" y="693.0" font-size="10.0" fill="#3d56c6" stroke="#3d56c6" stroke-width="0.25" text-anchor="end" textLength="59.6" lengthAdjust="spacingAndGlyphs" xml:space="preserve">100.0 - 165.66</text>
</g>
<g shape-rendering="crispEdges">
<rect x="1434" y="13" width="34" height="11" fill="#ff0000"/>
<rect x="1434" y="173" width="34" height="11" fill="#ff0000"/>
<rect x="1434" y="396" width="34" height="11" fill="#ff0000"/>
<rect x="1434" y="536" width="34" height="11" fill="#ff0000"/>
<rect x="1434" y="301" width="34" height="11" fill="#26a69a"/>
</g>
<g font-family="'Liberation Sans', sans-serif" text-rendering="geometricPrecision">
<text x="1437.5" y="22.0" font-size="10.0" fill="#fff" stroke="#fff" stroke-width="0.25" text-anchor="start" textLength="26.5" lengthAdjust="spacingAndGlyphs" xml:space="preserve">199.40</text>
<text x="1437.5" y="182.0" font-size="10.0" fill="#fff" stroke="#fff" stroke-width="0.25" text-anchor="start" textLength="26.5" lengthAdjust="spacingAndGlyphs" xml:space="preserve">191.45</text>
<text x="1437.5" y="405.0" font-size="10.0" fill="#fff" stroke="#fff" stroke-width="0.25" text-anchor="start" textLength="26.5" lengthAdjust="spacingAndGlyphs" xml:space="preserve">180.35</text>
<text x="1437.5" y="545.0" font-size="10.0" fill="#fff" stroke="#fff" stroke-width="0.25" text-anchor="start" textLength="26.5" lengthAdjust="spacingAndGlyphs" xml:space="preserve">173.39</text>
<text x="1437.5" y="310.0" font-size="10.0" fill="#fff" stroke="#fff" stroke-width="0.25" text-anchor="start" textLength="26.5" lengthAdjust="spacingAndGlyphs" xml:space="preserve">185.06</text>
</g>
</svg>
</body></html>
